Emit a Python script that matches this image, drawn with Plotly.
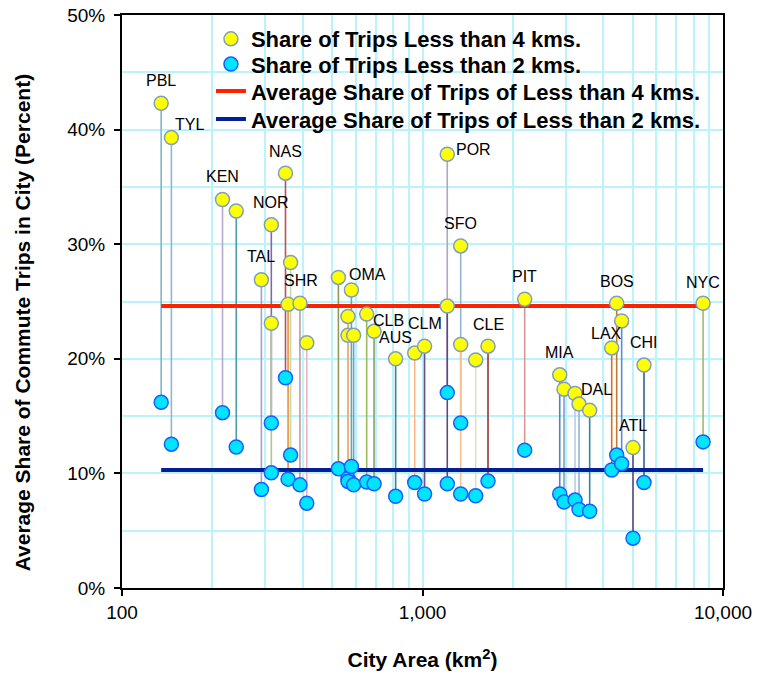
import numpy as np
import plotly.graph_objects as go

# City area (km^2) and commute-trip shares (%) for each city
city_names = ["PBL", "TYL", "KEN", "", "TAL", "NOR", "", "NAS", "", "", "SHR", "",
              "OMA", "", "", "", "", "CLB", "AUS", "", "", "CLM", "POR", "", "SFO", "",
              "", "CLE", "PIT", "MIA", "", "DAL", "", "", "LAX", "BOS", "", "ATL", "CHI", "NYC"]
city_area = [135, 146, 216, 240, 291, 314, 314, 350, 357, 364, 391, 412,
             525, 565, 565, 580, 590, 652, 690, 814, 942, 1016, 1209, 1209, 1340, 1340,
             1503, 1652, 2188, 2862, 2958, 3218, 3318, 3600, 4262, 4428, 4600, 5018, 5459, 8584]
share_4km = [42.3, 39.3, 33.9, 32.9, 26.9, 31.7, 23.1, 36.2, 24.75, 28.4, 24.85, 21.4,
             27.1, 23.7, 22.05, 26.0, 22.05, 23.9, 22.4, 20.0, 20.5, 21.1, 37.85, 24.6, 29.85, 21.25,
             19.9, 21.1, 25.2, 18.6, 17.35, 16.97, 16.05, 15.5, 20.95, 24.85, 23.3, 12.25, 19.45, 24.85]
share_2km = [16.2, 12.55, 15.3, 12.3, 8.6, 14.4, 10.05, 18.35, 9.5, 11.6, 9.0, 7.4,
             10.4, 9.55, 9.3, 10.6, 9.0, 9.25, 9.1, 8.0, 9.2, 8.2, 17.05, 9.1, 14.4, 8.2,
             8.05, 9.33, 12.03, 8.2, 7.5, 7.67, 6.86, 6.7, 10.3, 11.6, 10.85, 4.35, 9.2, 12.75]
avg_4km = 24.6
avg_2km = 10.3

x_tick_vals = [100, 1000, 10000]
x_tick_text = ["100", "1,000", "10,000"]

# Stem colour for each city
stem_colors = ["#7fb5cc", "#8fb8d0", "#b8a8cc", "#4a9bb0", "#a89cc4", "#7f6aa8", "#b0c888",
               "#c0504d", "#e8913c", "#c8d8a8", "#c89a98", "#e6b8b7", "#8c9a58", "#f59a50",
               "#f0b080", "#4bacc6", "#60a8c8", "#9bbb59", "#8aa060", "#31859c", "#f8b88a",
               "#6a5088", "#b3a2c7", "#5f497a", "#95b3d7", "#fac090", "#d7e4bd", "#953735",
               "#d99694", "#4f81bd", "#7fa0c8", "#b9cde5", "#8eb4e3", "#31859c", "#e46c0a",
               "#c07838", "#558ed5", "#5b4a7a", "#376092", "#a8b86c"]

# Label offsets in pixels (dx, dy) from the 4 km marker
label_offsets = {"PBL": (0, 23), "TYL": (18, 13), "KEN": (0, 23), "NOR": (0, 22),
                 "TAL": (0, 23), "NAS": (0, 22), "SHR": (1, 23), "OMA": (29, 3),
                 "CLB": (22, -6), "AUS": (21, -6), "CLM": (0, 23), "POR": (26, 5),
                 "SFO": (0, 22), "CLE": (0, 22), "PIT": (0, 23), "MIA": (0, 22),
                 "DAL": (21, 4), "LAX": (-5, 14), "BOS": (0, 22), "ATL": (0, 22),
                 "CHI": (0, 23), "NYC": (0, 21)}

FONT = "Liberation Sans, Arial, sans-serif"
GRID = "#b9f3fb"

fig = go.Figure()

# Vertical stems joining the two shares of each city
for a, s4, s2, c in zip(city_area, share_4km, share_2km, stem_colors):
    fig.add_trace(go.Scatter(x=[a, a], y=[s4, s2], mode="lines",
                             line=dict(color=c, width=1.6),
                             showlegend=False, hoverinfo="skip"))

# Average lines spanning the range of city areas
x_span = [min(city_area), max(city_area)]
fig.add_trace(go.Scatter(x=x_span, y=[avg_4km, avg_4km], mode="lines",
                         line=dict(color="#ff2200", width=4), legend="legend3",
                         name="Average Share of Trips of Less than 4 kms."))
fig.add_trace(go.Scatter(x=x_span, y=[avg_2km, avg_2km], mode="lines",
                         line=dict(color="#001f99", width=4), legend="legend4",
                         name="Average Share of Trips of Less than 2 kms."))

fig.add_trace(go.Scatter(x=city_area, y=share_2km, mode="markers",
                         marker=dict(size=14, color="#00e5ff",
                                     line=dict(color="#1a5cff", width=1.5)),
                         legend="legend2", name="Share of Trips Less than 2 kms."))
fig.add_trace(go.Scatter(x=city_area, y=share_4km, mode="markers",
                         marker=dict(size=14, color="#ffff00",
                                     line=dict(color="#7f9fbf", width=1.5)),
                         legend="legend", name="Share of Trips Less than 4 kms."))

# City labels
for name, a, s4 in zip(city_names, city_area, share_4km):
    if not name:
        continue
    dx, dy = label_offsets[name]
    fig.add_annotation(x=np.log10(a), y=s4, text=name, showarrow=False,
                       xshift=dx, yshift=dy,
                       font=dict(family=FONT, size=16, color="#000000"))

# Vertical axis title
fig.add_annotation(xref="paper", yref="paper", x=-0.166, y=0.464,
                   xanchor="center", yanchor="middle", textangle=-90, showarrow=False,
                   text="Average Share of Commute Trips in City (Percent)",
                   font=dict(family=FONT, size=21, color="#000000", weight="bold"))

# White panel behind the legend rows
fig.add_shape(type="rect", xref="paper", yref="paper", layer="between",
              x0=0.143, x1=0.978, y0=0.79, y1=0.988,
              fillcolor="white", line=dict(width=0))

minor_x = [m * d for d in (100, 1000) for m in range(2, 10)]

legend_font = dict(family=FONT, size=22, color="#000000", weight="bold")
legend_rows = [0.958, 0.914, 0.867, 0.818]
legend_boxes = {}
for i, yrow in enumerate(legend_rows):
    key = "legend" if i == 0 else f"legend{i + 1}"
    legend_boxes[key] = dict(x=0.148, y=yrow, xanchor="left", yanchor="middle",
                             bgcolor="rgba(0,0,0,0)", borderwidth=0,
                             font=legend_font, itemwidth=30)

fig.update_layout(
    width=770, height=674,
    margin=dict(l=122, r=47, t=15, b=86),
    paper_bgcolor="white", plot_bgcolor="white",
    font=dict(family=FONT, color="#000000"),
    showlegend=True,
    **legend_boxes,
    xaxis=dict(type="log", range=[2, 4], automargin=False,
               tickmode="array", tickvals=x_tick_vals, ticktext=x_tick_text,
               ticks="outside", ticklen=6, tickwidth=1.5, tickcolor="#000000",
               tickfont=dict(family=FONT, size=19),
               showline=True, linecolor="#000000", linewidth=2, mirror=True,
               showgrid=True, gridcolor=GRID, gridwidth=1.5, zeroline=False,
               minor=dict(tickmode="array", tickvals=minor_x, showgrid=True,
                          gridcolor=GRID, gridwidth=1.5, ticks=""),
               title=dict(text="City Area (km<sup>2</sup>)", standoff=31,
                          font=dict(family=FONT, size=21, weight="bold"))),
    yaxis=dict(range=[0, 50], dtick=10, ticksuffix="%", automargin=False,
               ticks="outside", ticklen=6, tickwidth=1.5, tickcolor="#000000",
               tickfont=dict(family=FONT, size=19), ticklabelstandoff=5,
               showline=True, linecolor="#000000", linewidth=2, mirror=True,
               showgrid=True, gridcolor=GRID, gridwidth=1.5, zeroline=False,
               minor=dict(dtick=5, showgrid=True, gridcolor=GRID, gridwidth=1.5, ticks="")),
)

fig.write_html("out.html")
